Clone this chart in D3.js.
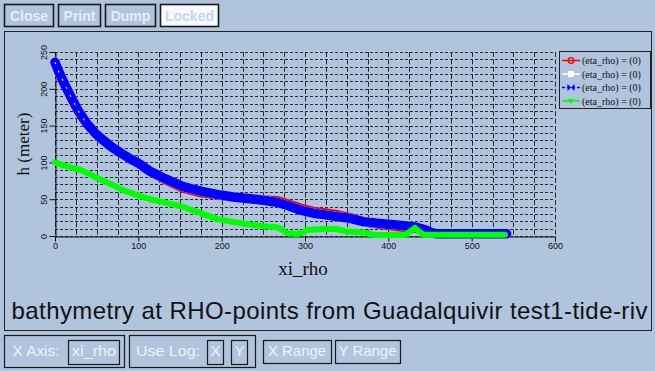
<!DOCTYPE html>
<html><head><meta charset="utf-8">
<script src="https://cdn.jsdelivr.net/npm/d3@7"></script>
<style>html,body{margin:0;padding:0;background:#b0c4de;}svg{display:block;}</style>
</head><body>
<script>
// ---- data ----
const xTicks = [0, 100, 200, 300, 400, 500, 600];
const yTicks = [0, 50, 100, 150, 200, 250];
const legendLabels = ["(eta_rho) = (0)", "(eta_rho) = (0)", "(eta_rho) = (0)", "(eta_rho) = (0)"];
const title = "bathymetry at RHO-points from Guadalquivir test1-tide-riv";
const xLabel = "xi_rho";
const yLabel = "h (meter)";

const redXi   = [0,5,12,20,28,38,48,58,68,80,90,100,114,130,154,175,194,214,234,250,266,280,294,310,322,340,354,370,390,410,430,440,446,452,458,542];
const redH    = [236,222,205,187,170,153,140,130,121,112,105,99,88,78,65,59,56,53,50.7,49,48,43.5,38,33.5,31.5,28.5,25,19.5,16,13,11,9,7.7,4.5,3,3];
const whiteXi = [0,5,12,20,28,38,48,58,68,80,90,100,114,130,154,175,194,214,234,250,266,280,294,310,322,340,354,370,390,410,430,440,446,452,458,542];
const whiteH  = [236,222,205,187,170,153,140,130,121,112,105,99,88,79,67,61,56.6,53,50.7,48.5,45.8,41,35.3,31,29,26,24,19.5,17,15,12.7,10,7.7,4.5,3,3];
const blueXi  = [0,5,12,20,28,38,48,58,68,80,90,100,114,130,154,175,194,214,234,250,266,280,294,310,322,340,354,370,390,410,430,440,446,452,458,542];
const blueH   = [236,222,205,187,170,153,140,130,121,112,105,99,88,79,67,61,56.6,53,50.7,48.5,45.8,41,35.3,31,29,26,24,19.5,17,15,12.7,10,7.7,4.5,3,3];
const greenXi = [0,10,20,30,40,50,60,70,80,90,100,114,130,154,175,194,214,234,250,266,272,278,290,296,302,322,338,350,370,380,386,420,426,432,438,442,540];
const greenH  = [100,96,93,90,85,79,74,69,63,59,55,50,46,39.4,31,23.3,19,15.6,13.3,11.8,9,4,2.7,4,8.2,9.5,9.5,6,4.8,2,1.4,1.4,6,11,5,1.8,1.8];

const topButtons = ["Close", "Print", "Dump", "Locked"];
const bottomLabels = ["X Axis:", "xi_rho", "Use Log:", "X", "Y", "X Range", "Y Range"];

// ---- drawing ----
const W = 655, H = 371;
const BG = "#b0c4de";
const svg = d3.select("body").append("svg").attr("width", W).attr("height", H);
svg.append("rect").attr("width", W).attr("height", H).attr("fill", BG);

const x = d3.scaleLinear().domain([0, 600]).range([55, 555]);
const y = d3.scaleLinear().domain([0, 250]).range([236, 52]);

// top buttons
const btnGeom = [[4, 50], [58, 43], [105, 51], [160, 59]];
topButtons.forEach((t, i) => {
  const [bx, bw] = btnGeom[i];
  const locked = t === "Locked";
  svg.append("rect").attr("x", bx + 0.5).attr("y", 4.5).attr("width", bw - 1).attr("height", 22)
    .attr("fill", locked ? "#f7faff" : BG).attr("stroke", "#1a1a1a").attr("stroke-width", 1.6);
  svg.append("text").attr("x", bx + bw / 2).attr("y", 21).attr("text-anchor", "middle")
    .attr("font-family", "Liberation Sans, Arial, sans-serif").attr("font-weight", "bold").attr("font-size", 14)
    .attr("fill", locked ? "#c9d7ea" : "#e6edf7").text(t);
});

// main panel
svg.append("rect").attr("x", 4.5).attr("y", 31.5).attr("width", 647).attr("height", 299)
  .attr("fill", "none").attr("stroke", "#222").attr("stroke-width", 1);

// grid
const g = svg.append("g");
d3.range(0, 251, 10).forEach(v => {
  g.append("line").attr("x1", x(0)).attr("x2", x(600)).attr("y1", Math.round(y(v)) + 0.5).attr("y2", Math.round(y(v)) + 0.5)
    .attr("stroke", "#2a2a2a").attr("stroke-width", 1).attr("stroke-dasharray", "3,2");
});
d3.range(0, 601, 25).forEach(v => {
  g.append("line").attr("x1", Math.round(x(v)) + 0.5).attr("x2", Math.round(x(v)) + 0.5).attr("y1", y(250)).attr("y2", y(0))
    .attr("stroke", "#2a2a2a").attr("stroke-width", 1).attr("stroke-dasharray", "5,2.4");
});

// axes
const xAxis = d3.axisBottom(x).tickValues(xTicks).tickSize(5).tickFormat(d3.format("d"));
const gx = svg.append("g").attr("transform", `translate(0,${Math.round(y(0)) + 0.5})`).call(xAxis);
gx.select(".domain").attr("stroke", "#111");
gx.selectAll(".tick line").attr("stroke", "#111");
gx.selectAll("text").attr("font-family", "Liberation Sans, Arial, sans-serif").attr("font-size", 9)
  .attr("fill", "#111").attr("dy", "0.55em");

const yAxis = d3.axisLeft(y).tickValues(yTicks).tickSize(6).tickFormat(d3.format("d"));
const gy = svg.append("g").attr("transform", `translate(${Math.round(x(0)) + 0.5},0)`).call(yAxis);
gy.select(".domain").attr("stroke", "#111");
gy.selectAll(".tick line").attr("stroke", "#111");
gy.selectAll("text").attr("font-family", "Liberation Sans, Arial, sans-serif").attr("font-size", 9)
  .attr("fill", "#111").attr("x", 0).attr("dy", 0).attr("text-anchor", "middle")
  .attr("transform", "translate(-9,0) rotate(-90)");

// axis titles
svg.append("text").attr("x", 303).attr("y", 275).attr("text-anchor", "middle")
  .attr("font-family", "Liberation Serif, Times New Roman, serif").attr("font-size", 19).attr("fill", "#111").text(xLabel);
svg.append("text").attr("transform", "translate(29,144) rotate(-90)").attr("text-anchor", "middle")
  .attr("font-family", "Liberation Serif, Times New Roman, serif").attr("font-size", 17).attr("fill", "#111").text(yLabel);

// series
const mk = (xs, hs) => xs.map((v, i) => [v, hs[i]]);
const line = d3.line().x(d => x(d[0])).y(d => y(d[1]));
const series = [
  { data: mk(redXi, redH), color: "#ff0000", w: 9.5 },
  { data: mk(whiteXi, whiteH), color: "#ffffff", w: 9.5 },
  { data: mk(blueXi, blueH), color: "#0000ff", w: 9.5 },
  { data: mk(greenXi, greenH), color: "#00ff00", w: 6 }
];
const sg = svg.append("g");
series.forEach(s => {
  sg.append("path").attr("d", line(s.data)).attr("fill", "none").attr("stroke", s.color)
    .attr("stroke-width", s.w).attr("stroke-linejoin", "round").attr("stroke-linecap", "round");
});
// white series peeking through the dashed blue marks on the steep part
svg.append("clipPath").attr("id", "steep").append("rect")
  .attr("x", x(0) - 5).attr("y", y(250)).attr("width", x(38) - x(0) + 5).attr("height", y(0) - y(250));
sg.append("path").attr("d", line(mk(whiteXi, whiteH))).attr("fill", "none").attr("stroke", "#e8eeff")
  .attr("stroke-width", 1.1).attr("stroke-dasharray", "2,7").attr("clip-path", "url(#steep)");

// legend
const lg = svg.append("g");
lg.append("rect").attr("x", 559.5).attr("y", 51.5).attr("width", 91).attr("height", 57)
  .attr("fill", BG).attr("stroke", "#222");
const legColors = ["#ff0000", "#ffffff", "#0000ff", "#00ff00"];
legendLabels.forEach((t, i) => {
  const ly = 60.5 + i * 13.5;
  lg.append("line").attr("x1", 562).attr("x2", 580).attr("y1", ly).attr("y2", ly)
    .attr("stroke", legColors[i]).attr("stroke-width", 1.5).attr("stroke-dasharray", i === 2 ? "3,2" : null);
  const cx = 571;
  if (i === 0) lg.append("circle").attr("cx", cx).attr("cy", ly).attr("r", 2.8).attr("fill", "none").attr("stroke", legColors[i]).attr("stroke-width", 1.3);
  if (i === 1) lg.append("rect").attr("x", cx - 3).attr("y", ly - 3).attr("width", 6).attr("height", 6).attr("fill", "#fff");
  if (i === 2) lg.append("path").attr("d", `M${cx-3.5},${ly-3.5}L${cx+3.5},${ly+3.5}L${cx+3.5},${ly-3.5}L${cx-3.5},${ly+3.5}Z`).attr("fill", legColors[i]);
  if (i === 3) lg.append("path").attr("d", `M${cx-3.5},${ly-2}L${cx+3.5},${ly-2}L${cx},${ly+3}Z`).attr("fill", legColors[i]);
  lg.append("text").attr("x", 582).attr("y", ly + 3.5).attr("font-family", "Liberation Serif, Times New Roman, serif")
    .attr("font-size", 10).attr("fill", "#111").text(t);
});

// title (the visible part of the reference title, filling its box)
svg.append("text").attr("x", 11.5).attr("y", 318.5)
  .attr("font-family", "Liberation Sans, Arial, sans-serif").attr("font-size", 24)
  .attr("textLength", 636).attr("lengthAdjust", "spacing")
  .attr("fill", "#111").text(title);

// bottom controls
const box = (bx, by, bw, bh, sw) => svg.append("rect").attr("x", bx + 0.5).attr("y", by + 0.5).attr("width", bw).attr("height", bh)
  .attr("fill", "none").attr("stroke", "#1a1a1a").attr("stroke-width", sw || 1.2);
const btxt = (t, tx, anchor, len) => {
  const e = svg.append("text").attr("x", tx).attr("y", 356).attr("text-anchor", anchor || "start")
    .attr("font-family", "Liberation Sans Narrow, Liberation Sans, Arial, sans-serif").attr("font-size", 15)
    .attr("fill", "#eef3fb").text(t);
  if (len) e.attr("textLength", len).attr("lengthAdjust", "spacingAndGlyphs");
};
box(4, 335, 120, 32);
box(68, 340, 51, 24);
btxt(bottomLabels[0], 12.5, "start", 47);
btxt(bottomLabels[1], 94, "middle", 44);
box(129, 335, 126, 32);
btxt(bottomLabels[2], 136, "start", 64);
box(207, 340, 16, 24);
btxt(bottomLabels[3], 215.5, "middle");
box(231, 340, 16, 24);
btxt(bottomLabels[4], 239.5, "middle");
box(263, 340, 68, 23);
btxt(bottomLabels[5], 297, "middle", 58);
box(335, 340, 65, 23);
btxt(bottomLabels[6], 367.5, "middle", 58);
</script>
</body></html>
